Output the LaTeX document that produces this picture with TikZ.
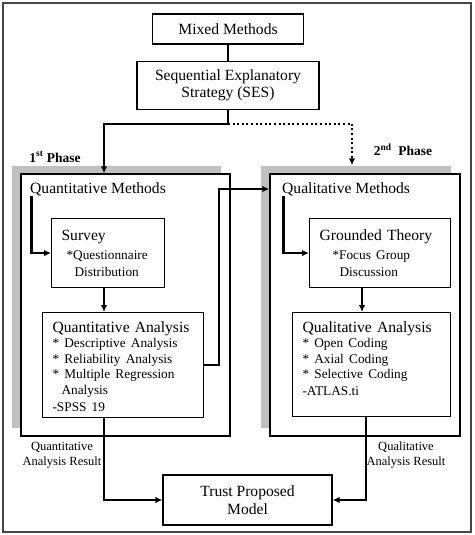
\documentclass[tikz,border=0pt]{standalone}
\usepackage{fontspec}
\setmainfont{Liberation Serif}
\usetikzlibrary{positioning,shadows,arrows.meta}
\definecolor{shade}{RGB}{192,192,192}
\definecolor{framegray}{RGB}{70,70,70}
\newcommand{\headsize}{\fontsize{15.6}{17}\selectfont}
\newcommand{\itemsize}{\fontsize{13.3}{15.5}\selectfont}
\tikzset{
  box/.style={draw, line width=1.1pt, fill=white, font=\headsize},
  listbox/.style={box, anchor=north west, align=left, inner xsep=10pt, inner ysep=0pt},
  panel/.style={draw, line width=1.3pt, fill=white,
    drop shadow={shadow xshift=-9pt, shadow yshift=8pt, fill=shade, opacity=1}},
  title/.style={anchor=west, inner sep=0pt, font=\headsize},
  conn/.style={line width=2.2pt},
  note/.style={align=center, font=\fontsize{12.5}{15}\selectfont},
  phase/.style={font=\fontsize{13.5}{16}\selectfont\bfseries}
}
\begin{document}
\begin{tikzpicture}[x=1pt, y=-1pt, >={Latex[length=7pt,width=6.5pt]}]
  \useasboundingbox (0,0) rectangle (474,535);
  \draw[framegray, line width=1.2pt] (3,3) rectangle (471,532);

  % top of the strategy
  \node[box, minimum width=151pt, minimum height=30pt] (mm) at (228,29) {Mixed Methods};
  \node[box, minimum width=182pt, minimum height=48pt, align=center] (ses)[below=16pt of mm]
    {Sequential Explanatory\\Strategy (SES)};

  % the two phases
  \node[panel, minimum width=209pt, minimum height=262pt] (lp) at (125.5,305) {};
  \node[panel, minimum width=190pt, minimum height=262pt] (rp) at (365,305) {};
  \node[phase] (p1) at (55,157) {1\textsuperscript{st} Phase};
  \node[phase] (p2) at (403,150) {2\textsuperscript{nd}\ \ Phase};

  \node[title] (qnt) at (30,189) {Quantitative Methods};
  \node[title] (qlt) at (282,189) {Qualitative Methods};

  \node[listbox, text width=93pt, text height=21.5pt, text depth=47.5pt] (sv) at (51,218)
    {Survey\\[4pt]\itemsize\hspace*{5pt}*Questionnaire\\\hspace*{13pt}Distribution};
  \node[listbox, text width=121pt, text height=21.5pt, text depth=47.5pt] (gt) at (309,218)
    {Grounded Theory\\[4pt]\itemsize\hspace*{13pt}*Focus Group\\\hspace*{20pt}Discussion};
  \node[listbox, text width=141pt, text height=19.5pt, text depth=85.5pt] (qa) at (42,312)
    {Quantitative Analysis\\\itemsize{}* Descriptive Analysis\\{}* Reliability Analysis\\
     {}* Multiple Regression\\\hspace*{9pt}Analysis\\-SPSS 19};
  \node[listbox, text width=138pt, text height=19.5pt, text depth=84.5pt] (ql) at (292,312)
    {Qualitative Analysis\\\itemsize{}* Open Coding\\{}* Axial Coding\\{}* Selective Coding\\-ATLAS.ti};

  % result
  \node[box, minimum width=169pt, minimum height=50pt, align=center,
    font=\fontsize{15.6}{18}\selectfont] (tp) at (247.5,500) {Trust Proposed\\Model};
  \node[note] (qnr) at (62,455) {Quantitative\\Analysis Result};
  \node[note] (qlr) at (406,455) {Qualitative\\Analysis Result};

  \coordinate (qx) at (104,0);
  \coordinate (dx) at (352,0);
  \coordinate (gx) at (362,0);
  \coordinate (rx) at (366,0);

  \draw[conn] (mm.south) -- (mm.south |- ses.north);
  \draw[conn, ->] (ses.south) -- ++(0,14) coordinate (split) -| (qx |- lp.north);
  \draw[conn, ->, dash pattern=on 2pt off 2.6pt] (split) -| ([yshift=8pt]dx |- rp.north);
  \draw[conn, ->] ([xshift=1.5pt]qnt.south west) |- (sv.west);
  \draw[conn, ->] ([xshift=1.5pt]qlt.south west) |- (gt.west);
  \draw[conn, ->] (qx |- sv.south) -- (qx |- qa.north);
  \draw[conn, ->] (gx |- gt.south) -- (gx |- ql.north);
  \draw[conn, ->] (qa.east) -- ++(15,0) |- (rp.west |- qlt.west);
  \draw[conn, ->] (qx |- qa.south) |- (tp.west);
  \draw[conn, ->] (rx |- ql.south) |- (tp.east);
\end{tikzpicture}
\end{document}
